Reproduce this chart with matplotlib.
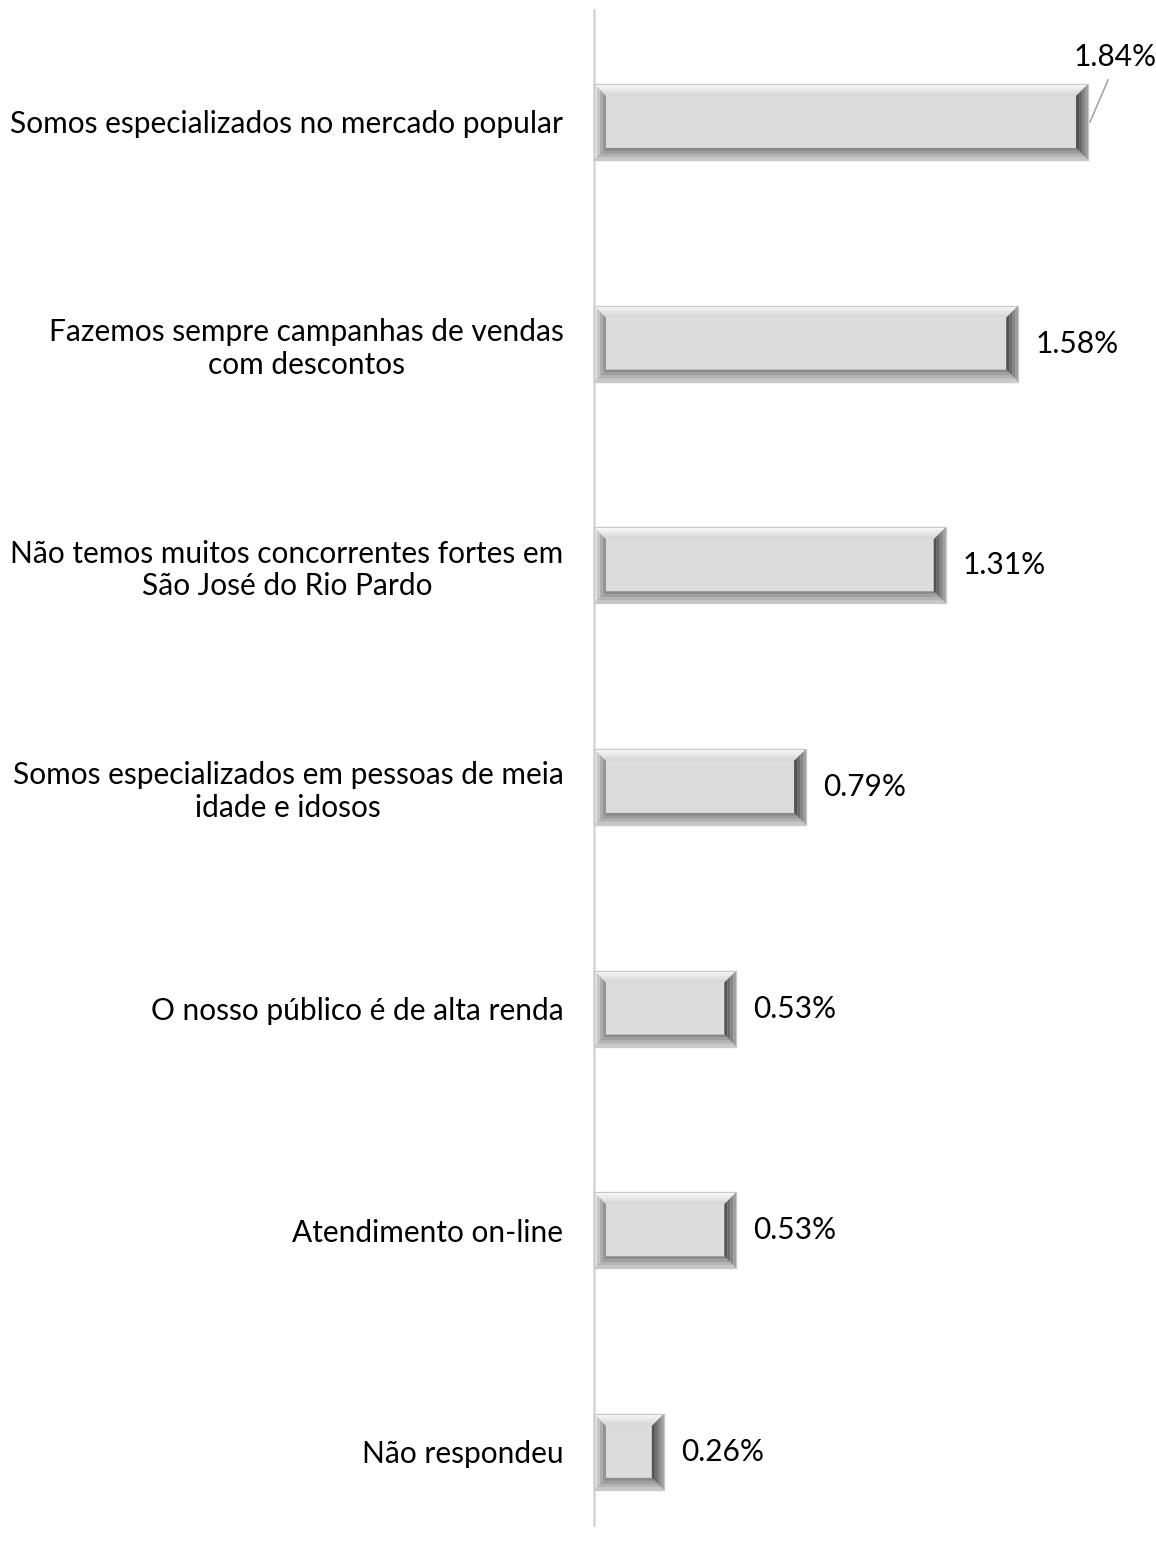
import matplotlib.pyplot as plt
import numpy as np

categories = [
    "Somos especializados no mercado popular",
    "Fazemos sempre campanhas de vendas\ncom descontos",
    "Não temos muitos concorrentes fortes em\nSão José do Rio Pardo",
    "Somos especializados em pessoas de meia\nidade e idosos",
    "O nosso público é de alta renda",
    "Atendimento on-line",
    "Não respondeu",
]
values = [1.84, 1.58, 1.31, 0.79, 0.53, 0.53, 0.26]
value_labels = ["1.84%", "1.58%", "1.31%", "0.79%", "0.53%", "0.53%", "0.26%"]

plt.rcParams["font.family"] = ["Lato", "DejaVu Sans"]

W, H, DPI = 1156, 1546, 100
fig = plt.figure(figsize=(W / DPI, H / DPI), dpi=DPI)
ax = fig.add_axes([594 / W, 1 - 1525 / H, 537 / W, (1525 - 10) / H])
ax.set_xlim(0, 2.0)
ax.set_ylim(6.33, -0.505)

px_x = 537 / 2.0      # pixels per x unit
px_y = (1525 - 10) / 6.835  # pixels per y unit
bh = 0.343
bev_x = 12 / px_x
bev_y = 12 / px_y
fs = 21.5

for i, v in enumerate(values):
    y0, y1 = i - bh / 2, i + bh / 2
    # base face
    ax.fill([0, v, v, 0], [y0, y0, y1, y1], color="#DCDCDC", zorder=2)
    # bevels drawn as layered strips for a gradient look
    steps = 4
    for k in range(steps):
        t0 = k / steps
        t1 = (k + 1) / steps
        ox0, ox1 = bev_x * t0, bev_x * t1
        oy0, oy1 = bev_y * t0, bev_y * t1
        # top (light)
        c = 0.97 - 0.04 * k
        ax.fill([ox0, v - ox0, v - ox1, ox1], [y0 + oy0, y0 + oy0, y0 + oy1, y0 + oy1],
                color=(c, c, c), lw=0, zorder=3)
        # left (medium)
        c = 0.88 - 0.1 * k
        ax.fill([ox0, ox1, ox1, ox0], [y0 + oy0, y0 + oy1, y1 - oy1, y1 - oy0],
                color=(c, c, c), lw=0, zorder=3)
        # bottom (darker)
        c = 0.78 - 0.08 * k
        ax.fill([ox0, v - ox0, v - ox1, ox1], [y1 - oy0, y1 - oy0, y1 - oy1, y1 - oy1],
                color=(c, c, c), lw=0, zorder=3)
        # right (dark)
        c = 0.62 - 0.1 * k
        ax.fill([v - ox0, v - ox1, v - ox1, v - ox0], [y0 + oy0, y0 + oy1, y1 - oy1, y1 - oy0],
                color=(c, c, c), lw=0, zorder=3)
    ax.plot([0, v, v, 0, 0], [y0, y0, y1, y1, y0], color="#C8C8C8", lw=0.8, zorder=4)

    if i == 0:
        # label sits above-right with a leader line
        ax.plot([v + 2 / px_x, v + 20 / px_x], [i, i - 42 / px_y], color="#A6A6A6", lw=1.2, zorder=4)
        ax.text(v - 15 / px_x, i - 65 / px_y, value_labels[i], fontsize=fs, ha="left", va="center",
                clip_on=False)
    else:
        ax.text(v + 17 / px_x, i, value_labels[i], fontsize=fs, ha="left", va="center")

ax.set_yticks(range(len(categories)))
ax.set_yticklabels(categories, fontsize=fs, multialignment="center")
ax.tick_params(axis="y", length=0, pad=22)
ax.set_xticks([])
for s in ["top", "right", "bottom"]:
    ax.spines[s].set_visible(False)
ax.spines["left"].set_color("#D9D9D9")
ax.spines["left"].set_linewidth(2)

fig.savefig("out.png", dpi=DPI)
